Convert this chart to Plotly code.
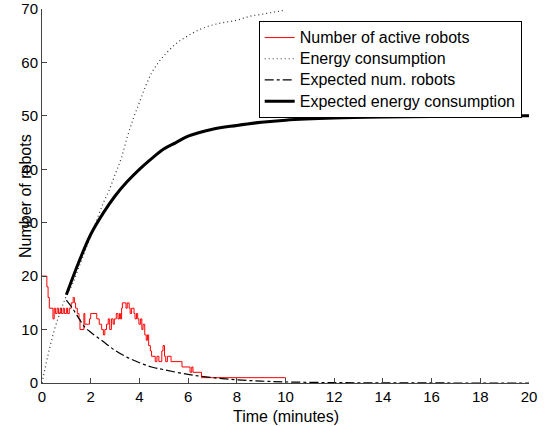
import plotly.graph_objects as go

# Number of active robots (step trace)
active_t = [0.00, 0.20, 0.25, 0.30, 0.45, 0.50, 0.55, 0.62, 0.68, 0.75, 0.80, 0.87, 0.92, 1.00, 1.05,
            1.12, 1.20, 1.28, 1.33, 1.38, 1.45, 1.52, 1.56, 1.72, 1.76, 1.95, 2.00, 2.25, 2.35, 2.45,
            2.52, 2.58, 2.65, 2.72, 2.78, 2.85, 2.92, 2.97, 3.05, 3.12, 3.18, 3.22, 3.27, 3.30, 3.45,
            3.50, 3.58, 3.62, 3.68, 3.78, 3.82, 3.88, 3.93, 3.98, 4.05, 4.10, 4.15, 4.22, 4.28, 4.33,
            4.38, 4.45, 4.50, 4.65, 4.72, 4.80, 4.92, 4.97, 5.03, 5.08, 5.15, 5.30, 5.75, 6.08, 6.15,
            6.20, 6.55, 10.00]
active_n = [20, 18, 16, 14, 12, 14, 13, 14, 13, 14, 13, 14, 13, 14, 13,
            14, 15, 16, 15, 14, 13, 12, 10, 13, 11, 12, 13, 12, 11, 10,
            9, 10, 11, 12, 10, 12, 11, 12, 13, 12, 13, 12, 14, 15, 14,
            15, 14, 13, 14, 13, 12, 13, 12, 11, 12, 10, 11, 9, 8, 9,
            7, 6, 5, 4, 5, 4, 6, 7, 5, 4, 5, 4, 3, 2, 3,
            2, 1, 0]

# Energy consumption (dotted)
energy_t = [0, 0.25, 0.5, 0.75, 1.0, 1.25, 1.5, 1.75, 2.0, 2.25, 2.5, 2.75, 3.0, 3.25, 3.5, 3.75,
            4.0, 4.25, 4.5, 4.75, 5.0, 5.5, 6.0, 6.5, 7.0, 7.5, 8.0, 8.5, 9.0, 9.5, 10.0]
energy_v = [0, 5.3, 9.8, 13.3, 16.3, 18.5, 21.5, 24.5, 27.5, 30.5, 33.5, 36.0, 39.0, 42.0, 46.0, 49.5,
            52.5, 55.5, 58.0, 59.8, 61.2, 63.5, 65.0, 66.2, 67.0, 67.5, 67.9, 68.6, 69.0, 69.4, 69.8]

# Expected number of robots (dash-dot)
exp_n_t = [1.0, 1.25, 1.5, 1.75, 2.0, 2.5, 3.0, 3.5, 4.0, 4.5, 5.0, 6.0, 7.0, 8.0, 9.0, 10.0,
           12.0, 14.0, 16.0, 18.0, 20.0]
exp_n_v = [15.5, 14.0, 12.2, 10.5, 9.5, 7.8, 6.1, 4.8, 3.8, 3.0, 2.5, 1.6, 1.0, 0.6, 0.35, 0.2,
           0.07, 0.03, 0.01, 0.0, 0.0]

# Expected energy consumption (thick solid)
exp_e_t = [1.0, 1.5, 2.0, 2.5, 3.0, 3.5, 4.0, 4.5, 5.0, 5.5, 6.0, 7.0, 8.0, 9.0, 10.0,
           12.0, 14.0, 16.0, 18.0, 20.0]
exp_e_v = [16.5, 22.5, 27.8, 31.7, 35.0, 37.7, 40.0, 42.0, 43.8, 45.0, 46.2, 47.5, 48.2, 48.8, 49.2,
           49.6, 49.8, 49.9, 50.0, 50.0]

series_names = ["Number of active robots", "Energy consumption",
                "Expected num. robots", "Expected energy consumption"]

x_ticks = [0, 2, 4, 6, 8, 10, 12, 14, 16, 18, 20]
y_ticks = [0, 10, 20, 30, 40, 50, 60, 70]

FONT = "Liberation Sans, Arial, Helvetica, sans-serif"


def lg(name):
    return '<span style="font-size:16px">' + name + "</span>"


fig = go.Figure()
fig.add_trace(go.Scatter(x=active_t, y=active_n, mode="lines", line=dict(color="red", width=1, shape="hv"),
                         name=lg(series_names[0])))
fig.add_trace(go.Scatter(x=energy_t, y=energy_v, mode="lines",
                         line=dict(color="#333333", width=1.2, dash="1px,3px", shape="spline"),
                         name=lg(series_names[1])))
fig.add_trace(go.Scatter(x=exp_n_t, y=exp_n_v, mode="lines",
                         line=dict(color="black", width=1.2, dash="dashdot", shape="spline"),
                         name=lg(series_names[2])))
fig.add_trace(go.Scatter(x=exp_e_t, y=exp_e_v, mode="lines", line=dict(color="black", width=3, shape="spline"),
                         name=lg(series_names[3])))

fig.update_layout(
    width=549, height=426,
    margin=dict(l=42, r=20, t=9, b=43),
    paper_bgcolor="white", plot_bgcolor="white",
    font=dict(family=FONT, size=15, color="black"),
    showlegend=True,
    legend=dict(x=0.445, y=0.968, xanchor="left", yanchor="top",
                bordercolor="black", borderwidth=1, bgcolor="white",
                font=dict(size=14), tracegroupgap=0, itemwidth=30),
    xaxis=dict(range=[0, 20], tickvals=x_ticks, ticks="inside", ticklen=5, tickcolor="#444",
               showline=True, linecolor="#444", linewidth=1, showgrid=False, zeroline=False,
               tickfont=dict(size=15), automargin=False),
    yaxis=dict(range=[0, 70], tickvals=y_ticks, ticks="inside", ticklen=5, tickcolor="#444",
               showline=True, linecolor="#444", linewidth=1, showgrid=False, zeroline=False,
               tickfont=dict(size=15), automargin=False),
    annotations=[
        dict(text="Time (minutes)", xref="paper", yref="paper", x=0.5, y=-0.062,
             xanchor="center", yanchor="top", showarrow=False, font=dict(size=16)),
        dict(text="Number of robots", xref="paper", yref="paper", x=-0.035, y=0.5,
             xanchor="center", yanchor="middle", textangle=-90, showarrow=False, font=dict(size=16)),
    ],
)

fig.write_html("out.html")
